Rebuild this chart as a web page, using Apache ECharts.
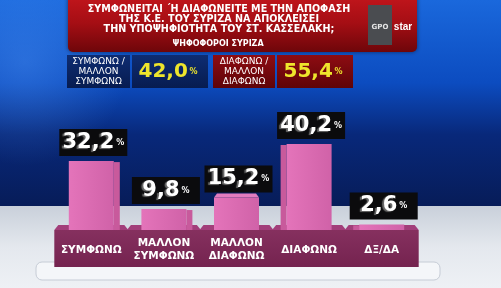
<!DOCTYPE html>
<html>
<head>
<meta charset="utf-8">
<script src="https://cdn.jsdelivr.net/npm/echarts@6/dist/echarts.min.js"></script>
<style>html,body{margin:0;padding:0;background:#0a2a80;}#c{width:501px;height:288px;}</style>
</head>
<body>
<div id="c"></div>
<script>
const titleLines = ['ΣΥΜΦΩΝΕΙΤΑΙ ΄Η ΔΙΑΦΩΝΕΙΤΕ ΜΕ ΤΗΝ ΑΠΟΦΑΣΗ', 'ΤΗΣ Κ.Ε. ΤΟΥ ΣΥΡΙΖΑ ΝΑ ΑΠΟΚΛΕΙΣΕΙ', 'ΤΗΝ ΥΠΟΨΗΦΙΟΤΗΤΑ ΤΟΥ ΣΤ. ΚΑΣΣΕΛΑΚΗ;'];
const subtitle = 'ΨΗΦΟΦΟΡΟΙ ΣΥΡΙΖΑ';
const summaryLabels = ['ΣΥΜΦΩΝΩ /\nΜΑΛΛΟΝ\nΣΥΜΦΩΝΩ', 'ΔΙΑΦΩΝΩ /\nΜΑΛΛΟΝ\nΔΙΑΦΩΝΩ'];
const summaryValues = [42.0, 55.4];
const categories = ['ΣΥΜΦΩΝΩ', 'ΜΑΛΛΟΝ\nΣΥΜΦΩΝΩ', 'ΜΑΛΛΟΝ\nΔΙΑΦΩΝΩ', 'ΔΙΑΦΩΝΩ', 'ΔΞ/ΔΑ'];
const values = [32.2, 9.8, 15.2, 40.2, 2.6];

const fmt = v => v.toFixed(1).replace('.', ',');
const F = '"DejaVu Sans", sans-serif';
const chart = echarts.init(document.getElementById('c'), null, {renderer: 'canvas'});

const lin = (stops, x2, y2) => new echarts.graphic.LinearGradient(0, 0, x2 || 0, y2 === undefined ? 1 : y2, stops.map((c, i) => ({offset: i / (stops.length - 1), color: c})));

const graphics = [
  {type: 'rect', z: -10, shape: {x: 0, y: 0, width: 501, height: 207},
   style: {fill: new echarts.graphic.LinearGradient(0, 0, 0, 1, [
     {offset: 0, color: '#1a68dc'}, {offset: 0.4, color: '#0c4cc0'}, {offset: 0.65, color: '#08287a'}, {offset: 1, color: '#071c58'}])}},
  {type: 'rect', z: -9, shape: {x: 0, y: 0, width: 501, height: 207},
   style: {fill: new echarts.graphic.RadialGradient(0.05, 0.3, 0.5, [
     {offset: 0, color: 'rgba(90,160,255,0.35)'}, {offset: 1, color: 'rgba(90,160,255,0)'}])}},
  {type: 'rect', z: -10, shape: {x: 0, y: 206, width: 501, height: 82},
   style: {fill: lin(['#c9d0da', '#e4e8ee', '#eef1f5'])}},
  {type: 'rect', z: -9, shape: {x: 36, y: 262, width: 404, height: 18, r: 6},
   style: {fill: '#f4f6f9', stroke: '#c6ccd6', lineWidth: 1}},
  {type: 'rect', z: 1, shape: {x: 68, y: -6, width: 349, height: 58, r: 5},
   style: {fill: lin(['#c4161c', '#a50e14', '#6e060a']), shadowBlur: 4, shadowColor: 'rgba(0,0,0,0.5)'}},
  {type: 'rect', z: 2, shape: {x: 368, y: 5, width: 24, height: 40},
   style: {fill: '#4a4c50'}},
  {type: 'text', z: 3, style: {x: 380, y: 27, text: 'GPO', fill: '#e6e6e6', font: 'bold 7px ' + F, align: 'center', verticalAlign: 'middle'}},
  {type: 'text', z: 3, style: {x: 403, y: 27, text: 'star', fill: '#ffffff', font: 'bold 10px "Liberation Sans", sans-serif', align: 'center', verticalAlign: 'middle'}},
  {type: 'text', z: 3, style: {x: 218, y: 44, text: subtitle, fill: '#ffffff', font: 'bold 8px ' + F, align: 'center', verticalAlign: 'middle'}}
];
titleLines.forEach((t, i) => {
  graphics.push({type: 'text', z: 3, style: {x: 219, y: 9 + i * 10, text: t, fill: '#ffffff', font: 'bold 9.6px ' + F, align: 'center', verticalAlign: 'middle'}});
});
const sumCfg = [
  {lx: 67, lw: 63, vx: 132, vw: 76, fill: ['#0e2c72', '#071c50']},
  {lx: 213, lw: 62, vx: 277, vw: 76, fill: ['#8e0c12', '#5e0408']}
];
sumCfg.forEach((c, i) => {
  graphics.push({type: 'rect', z: 1, shape: {x: c.lx, y: 55, width: c.lw, height: 33}, style: {fill: lin(c.fill)}});
  graphics.push({type: 'rect', z: 1, shape: {x: c.vx, y: 55, width: c.vw, height: 33}, style: {fill: lin(c.fill)}});
  graphics.push({type: 'text', z: 3, style: {x: c.lx + c.lw / 2, y: 72, text: summaryLabels[i], fill: '#ffffff', font: '9px ' + F, lineHeight: 10, align: 'center', verticalAlign: 'middle'}});
  graphics.push({type: 'text', z: 3, style: {x: c.vx + 36, y: 72, text: '{v|' + fmt(summaryValues[i]) + '}{s| }{p|%}', align: 'center', verticalAlign: 'middle',
    rich: {v: {fill: '#eee52c', font: 'bold 20px ' + F}, s: {font: '5px ' + F}, p: {fill: '#eee52c', font: 'bold 8px ' + F}}}});
});

const sideDir = [1, 1, 0, -1, -1];

chart.setOption({
  animation: false,
  grid: {left: 55, right: 83, top: 123, bottom: 58},
  xAxis: {type: 'category', data: categories, show: false},
  yAxis: {type: 'value', min: 0, max: 50, show: false},
  graphic: graphics,
  series: [{
    type: 'custom',
    z: 5,
    data: values.map((v, i) => [i, v]),
    renderItem: function (params, api) {
      const i = params.dataIndex;
      const v = api.value(1);
      const base = api.coord([i, 0]);
      const top = api.coord([i, v]);
      const cx = base[0], y0 = base[1], y1 = top[1];
      const d = sideDir[i];
      const children = [];
      children.push({type: 'polygon', shape: {points: [[cx - 33, y0 - 5], [cx + 33, y0 - 5], [cx + 37, y0], [cx - 37, y0]]}, style: {fill: '#a23e7a'}});
      children.push({type: 'rect', shape: {x: cx - 37, y: y0, width: 74, height: 37}, style: {fill: lin(['#86305f', '#74234f'])}});
      children.push({type: 'text', style: {x: cx, y: y0 + 20, text: categories[i], fill: '#ffffff', font: 'bold 10.5px ' + F, lineHeight: 13, align: 'center', verticalAlign: 'middle'}});
      const fw = 45;
      if (d !== 0) {
        const sx = d > 0 ? cx + fw / 2 : cx - fw / 2 - 6;
        children.push({type: 'rect', shape: {x: sx, y: y1 + 1, width: 6, height: y0 - y1 - 1}, style: {fill: '#c85a9c'}});
      } else {
        children.push({type: 'polygon', shape: {points: [[cx - fw / 2 + 3, y1 - 4], [cx + fw / 2 - 3, y1 - 4], [cx + fw / 2, y1], [cx - fw / 2, y1]]}, style: {fill: '#e27cbe'}});
      }
      children.push({type: 'rect', shape: {x: cx - fw / 2, y: y1, width: fw, height: y0 - y1}, style: {fill: lin(['#e474ba', '#d062a8'], 1, 0)}});
      const bh = 27;
      children.push({type: 'rect', shape: {x: cx - 32, y: y1 - 5 - bh, width: 68, height: bh}, style: {fill: '#0b0b0d'}});
      children.push({type: 'text', style: {x: cx + 2, y: y1 - 5 - bh / 2, text: '{v|' + fmt(v) + '}{s| }{p|%}', align: 'center', verticalAlign: 'middle',
        rich: {v: {fill: '#ffffff', font: 'bold 21px ' + F, textShadowColor: '#6a6a6a', textShadowOffsetX: -2, textShadowOffsetY: 1, textShadowBlur: 1},
               s: {font: '6px ' + F}, p: {fill: '#ffffff', font: 'bold 8px ' + F}}}});
      return {type: 'group', children: children};
    }
  }]
});
</script>
</body>
</html>
